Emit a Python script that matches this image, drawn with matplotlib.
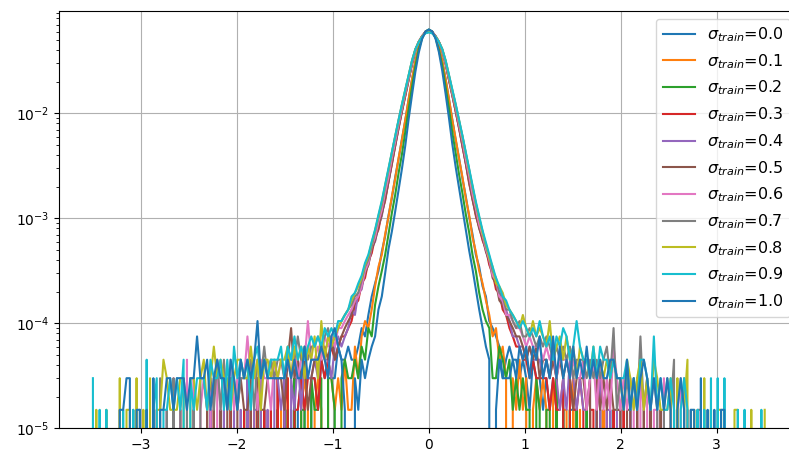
import numpy as np
import matplotlib.pyplot as plt

# histogram of prediction errors, one curve per training noise level
n_total = 66667      # samples per histogram
bin_w = 0.035        # bins from -3.5 to 3.5
n_side = 77          # tail bins on each side of the core

sigmas = [0.0, 0.1, 0.2, 0.3, 0.4, 0.5, 0.6, 0.7, 0.8, 0.9, 1.0]

# core counts, bins -0.805 .. 0.805 (47 bins)
core_00 = [3, 3, 4, 6, 5, 8, 12, 16, 21, 32, 45, 71, 104, 165, 245, 380, 570, 915, 1400, 2100, 2850, 3510, 4000,
           4160,
           3990, 3530, 2840, 2110, 1415, 905, 580, 370, 250, 160, 108, 69, 47, 30, 23, 15, 12, 7, 6, 5, 4, 2, 3]
core_01 = [1, 4, 2, 5, 7, 6, 9, 15, 23, 30, 47, 69, 108, 160, 250, 372, 580, 900, 1410, 2090, 2830, 3500, 3990,
           4150,
           4000, 3510, 2850, 2100, 1400, 915, 570, 380, 245, 165, 104, 72, 44, 32, 21, 16, 11, 8, 5, 6, 3, 4, 2]
core_02 = [2, 3, 2, 4, 3, 6, 5, 10, 15, 21, 30, 47, 75, 112, 180, 272, 445, 730, 1190, 1870, 2700, 3460, 4010,
           4180,
           4000, 3480, 2680, 1890, 1180, 740, 435, 278, 175, 116, 73, 49, 30, 21, 13, 9, 7, 6, 2, 2, 4, 3, 2]
core_03 = [7, 10, 11, 16, 18, 26, 31, 44, 52, 75, 98, 150, 218, 330, 480, 702, 980, 1400, 1960, 2660, 3180, 3630, 3960,
           4120,
           3980, 3610, 3200, 2640, 1975, 1385, 990, 695, 487, 323, 224, 143, 103, 70, 55, 41, 34, 24, 20, 14, 13, 9, 8]
core_04 = [9, 8, 13, 14, 21, 24, 35, 40, 57, 70, 106, 150, 230, 335, 495, 710, 1000, 1410, 1990, 2670, 3200, 3610, 3960,
           4100,
           3960, 3620, 3180, 2660, 1980, 1400, 1000, 705, 490, 335, 226, 152, 104, 76, 56, 45, 33, 27, 20, 16, 13, 10, 9]
core_05 = [8, 11, 12, 15, 20, 24, 34, 41, 55, 73, 102, 148, 222, 326, 485, 695, 985, 1390, 1965, 2650, 3190, 3620, 3970,
           4110,
           3970, 3625, 3190, 2650, 1970, 1395, 985, 700, 480, 328, 220, 148, 100, 73, 53, 43, 32, 26, 18, 16, 11, 10, 8]
core_06 = [9, 11, 12, 15, 21, 25, 36, 44, 62, 80, 118, 165, 250, 360, 525, 745, 1050, 1450, 2040, 2680, 3190, 3600, 3920,
           4040,
           3930, 3595, 3195, 2690, 2030, 1465, 1040, 752, 520, 366, 245, 170, 114, 83, 58, 46, 34, 27, 19, 17, 12, 11, 8]
core_07 = [10, 12, 13, 17, 23, 27, 36, 50, 68, 90, 134, 190, 280, 400, 570, 800, 1110, 1520, 2110, 2710, 3190, 3580, 3880,
           3975,
           3880, 3585, 3190, 2720, 2105, 1530, 1100, 805, 565, 405, 276, 195, 130, 93, 66, 50, 36, 29, 21, 18, 13, 12, 9]
core_08 = [11, 13, 15, 18, 24, 29, 39, 51, 70, 95, 138, 196, 283, 405, 575, 810, 1115, 1530, 2115, 2720, 3190, 3575, 3875,
           3960,
           3880, 3580, 3195, 2715, 2110, 1525, 1110, 800, 570, 400, 280, 190, 135, 92, 68, 48, 38, 28, 23, 16, 15, 13, 10]
core_09 = [12, 13, 16, 19, 25, 30, 40, 52, 72, 98, 140, 200, 288, 410, 580, 815, 1120, 1540, 2120, 2720, 3180, 3560, 3850,
           3930,
           3850, 3560, 3185, 2725, 2125, 1545, 1120, 815, 578, 410, 285, 200, 138, 96, 70, 51, 39, 30, 23, 18, 15, 12, 11]
core_10 = [0, 2, 1, 3, 2, 3, 4, 5, 9, 12, 20, 34, 50, 78, 124, 198, 330, 590, 1000, 1660, 2520, 3400, 4000,
           4190,
           4020, 3430, 2550, 1690, 1020, 600, 338, 205, 130, 82, 52, 33, 22, 14, 9, 6, 4, 3, 0, 1, 3, 2, 2]

# tail counts (one digit per bin); left tails end at -0.84, right tails start at 0.84
left_00 = "00100001000 10201012102 21323224334"
right_00 = "43323213221 21210201110 01001000100"
left_01 = "00001000010 01020101210 12103212131"
right_01 = "02131201212 10210110201 00100010000"
left_02 = "01000010000 10010201102 11202210232"
right_02 = "31212110210 11020101010 01000100000"
left_03 = "00010000100 01010201010 20120112122 21323434556"
right_03 = "65443323222 21211202112 10110101010 01000100000"
left_04 = "00100010010 10201120102 21202131322 32433245456"
right_04 = "75544343332 32321213212 11201201101 10010100010"
left_05 = "00001000100 01020101201 21120211232 22136232312 33443534567"
right_05 = "76554343423 32323232122 21202121211 10110201010 01000100000"
left_06 = "00010000100 10201030201 21203121312 22523132213 23232423373 34354546678"
right_06 = "87665454443 43423332322 31231312142 12121021201 10201012010 00100000000"
left_07 = "00000000100 01000101020 10201210102 21213131221 22231324232 33243353434 45456456789"
right_07 = "97675565454 54343434233 32323234261 21212151212 10121300201 01100100000"
left_08 = "01001000201 10201020113 21112202212 31242322123 32242313323 23342434243 52735456789"
right_08 = "98768657565 47345353424 33242323232 21321231213 21112020130 10020101100 01100010001"
left_09 = "20101000010 01010301201 12121302122 21322313142 32313423233 34243534345 45465657789"
right_09 = "98767656575 45354653474 33242433232 22312133215 12112101210 01010202020 00101000010"
left_10 = "00000000112 20110102011 22122212252 23123221321 32323723222 22232322423 33432564310"
right_10 = "23243424352 32524232423 24232322332 21312123212 12121012101 10201010110"

cores = [core_00, core_01, core_02, core_03, core_04, core_05, core_06, core_07, core_08, core_09, core_10]
lefts = [left_00, left_01, left_02, left_03, left_04, left_05, left_06, left_07, left_08, left_09, left_10]
rights = [right_00, right_01, right_02, right_03, right_04, right_05, right_06, right_07, right_08, right_09, right_10]


def counts(left, core, right):
    l = "".join(left.split()).rjust(n_side, "0")
    r = "".join(right.split()).ljust(n_side, "0")
    assert len(l) == n_side and len(r) == n_side and len(core) == 47
    return np.array([int(c) for c in l] + core + [int(c) for c in r], dtype=float)


x = (np.arange(2 * n_side + 47) - (n_side + 23)) * bin_w

fig = plt.figure(figsize=(7.89, 4.55), dpi=100)
ax = fig.add_axes([0.0752, 0.0587, 0.9366, 0.9171])

for s, l, c, r in zip(sigmas, lefts, cores, rights):
    ax.plot(x, counts(l, c, r) / n_total, label=r'$\sigma_{train}$=%.1f' % s)

ax.set_yscale('log')
ax.set_xlim(-3.85, 3.85)
ax.set_ylim(1e-5, 0.0942)
ax.grid(True)
ax.legend(loc='upper right', fontsize=11.5)

fig.savefig('out.png', dpi=100)
